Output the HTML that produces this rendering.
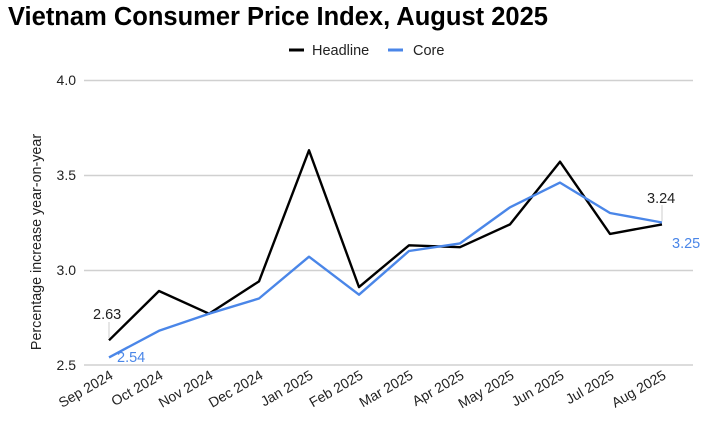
<!DOCTYPE html>
<html><head><meta charset="utf-8"><style>
body{margin:0;background:#fff;width:723px;height:423px;overflow:hidden}
svg{display:block;font-family:"Liberation Sans",Arial,sans-serif}
</style></head><body>
<svg width="723" height="423" viewBox="0 0 723 423">
<text x="8" y="25" font-size="25.5" font-weight="bold" fill="#000">Vietnam Consumer Price Index, August 2025</text>
<line x1="289" y1="50" x2="304" y2="50" stroke="#000" stroke-width="3"/>
<text x="312" y="55" font-size="14.5" fill="#222">Headline</text>
<line x1="388" y1="50" x2="403" y2="50" stroke="#4a86e8" stroke-width="3"/>
<text x="413" y="55" font-size="14.5" fill="#222">Core</text>
<g stroke="#d0d0d0" stroke-width="1.5">
<line x1="84" y1="80.5" x2="693" y2="80.5"/>
<line x1="84" y1="175.5" x2="693" y2="175.5"/>
<line x1="84" y1="270.5" x2="693" y2="270.5"/>
<line x1="84" y1="365" x2="693" y2="365"/>
</g>
<g font-size="14" fill="#222" text-anchor="end">
<text x="76" y="85">4.0</text><text x="76" y="180">3.5</text><text x="76" y="275">3.0</text><text x="76" y="370">2.5</text>
</g>
<text transform="translate(41,242) rotate(-90)" font-size="14.3" fill="#222" text-anchor="middle">Percentage increase year-on-year</text>
<polyline fill="none" stroke="#000" stroke-width="2.4" stroke-linejoin="round" points="109,340.3 159,291 209,313.7 259,281.4 309,150.3 359,287.1 409,245.3 460,247.2 510,224.4 560,161.7 610,233.9 662,224.4"/>
<polyline fill="none" stroke="#4a86e8" stroke-width="2.4" stroke-linejoin="round" points="109,357.4 159,330.8 209,313.7 259,298.5 309,256.7 359,294.7 409,251 460,243.4 510,207.3 560,182.6 610,213 662,222.5"/>
<line x1="109" y1="322" x2="109" y2="338" stroke="#ccc"/>
<line x1="662" y1="205" x2="662" y2="221" stroke="#ccc"/>
<text x="93" y="319" font-size="14.5" fill="#222">2.63</text>
<text x="117" y="362" font-size="14.5" fill="#4a86e8">2.54</text>
<text x="647" y="203" font-size="14.5" fill="#222">3.24</text>
<text x="672" y="248" font-size="14.5" fill="#4a86e8">3.25</text>
<g font-size="14" fill="#222" text-anchor="end">
<text transform="translate(114,378) rotate(-30)">Sep 2024</text>
<text transform="translate(164,378) rotate(-30)">Oct 2024</text>
<text transform="translate(214,378) rotate(-30)">Nov 2024</text>
<text transform="translate(264,378) rotate(-30)">Dec 2024</text>
<text transform="translate(314,378) rotate(-30)">Jan 2025</text>
<text transform="translate(364,378) rotate(-30)">Feb 2025</text>
<text transform="translate(414,378) rotate(-30)">Mar 2025</text>
<text transform="translate(465,378) rotate(-30)">Apr 2025</text>
<text transform="translate(515,378) rotate(-30)">May 2025</text>
<text transform="translate(565,378) rotate(-30)">Jun 2025</text>
<text transform="translate(615,378) rotate(-30)">Jul 2025</text>
<text transform="translate(667,378) rotate(-30)">Aug 2025</text>
</g>
</svg>
</body></html>
